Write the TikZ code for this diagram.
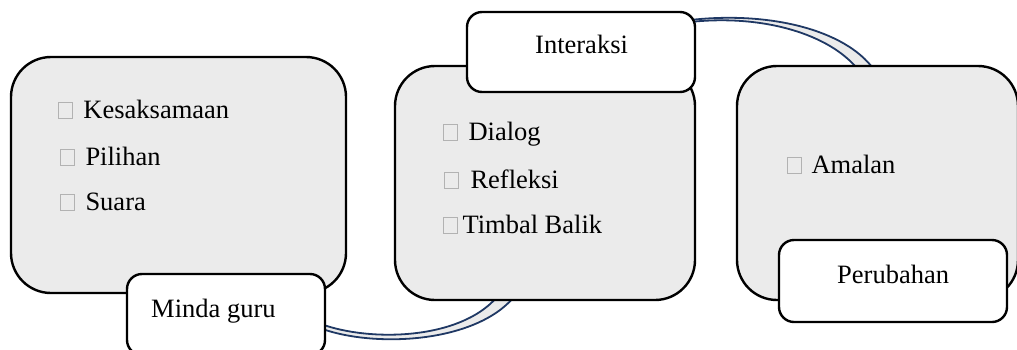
\documentclass[tikz,border=0pt]{standalone}
\usepackage{fontspec}
\setmainfont{Liberation Serif}
\usetikzlibrary{calc}
\definecolor{boxgray}{RGB}{235,235,235}
\definecolor{navy}{RGB}{31,56,100}
\newcommand\bxsq{{\color{gray!60}\fboxsep=0pt\fboxrule=0.9pt\fbox{\rule{0pt}{15pt}\hspace{12.5pt}}}}
\tikzset{
  bigbox/.style={draw=black, line width=2.4pt, fill=boxgray, rounded corners=40pt, inner sep=0pt, outer sep=0pt},
  tagbox/.style={draw=black, line width=2.4pt, fill=white, rounded corners=15pt, inner sep=0pt, outer sep=0pt},
  txt/.style={anchor=base west, inner sep=0pt, font=\fontsize{26.5}{30}\selectfont},
  bandline/.style={draw=navy, line width=1.8pt},
  bandfill/.style={fill=boxgray}
}
\begin{document}
\begin{tikzpicture}[x=1pt,y=-1pt]
\useasboundingbox (0,0) rectangle (1017,349);
% box geometry (nodes first, drawn later on top of connectors)
\path
  node[bigbox, minimum width=335, minimum height=236, draw=none, fill=none] (b1) at (178.5,175) {}
  node[tagbox, minimum width=198, minimum height=81, draw=none, fill=none] (mg) at (226,314.5) {}
  node[bigbox, minimum width=300, minimum height=234, draw=none, fill=none] (b2) at (545,183) {}
  node[tagbox, minimum width=228, minimum height=80, draw=none, fill=none] (ia) at (581,52) {}
  node[bigbox, minimum width=281, minimum height=234, draw=none, fill=none] (b3) at (877.5,183) {}
  node[tagbox, minimum width=228, minimum height=82, draw=none, fill=none] (pb) at (893,281) {};
% bottom band: Minda guru -> middle box
\coordinate (u1) at ($(mg.east)+(-4,9.5)$);
\coordinate (l1) at ($(mg.east)+(-4,14)$);
\coordinate (u2) at ($(b2.south)+(-48,-3)$);
\coordinate (l2) at ($(b2.south)+(-31,-3)$);
\fill[bandfill] (u1) .. controls (370,342) and (460,340) .. (u2) -- (l2) .. controls (475,343) and (375,348) .. (l1) -- cycle;
\draw[bandline] (u1) .. controls (370,342) and (460,340) .. (u2);
\draw[bandline] (l1) .. controls (375,348) and (475,343) .. (l2);
% top band: Interaksi -> right box
\coordinate (a1) at ($(ia.north east)+(-5,8)$);
\coordinate (c1) at ($(ia.north east)+(-5,10)$);
\coordinate (a2) at ($(b3.north)+(-4,3)$);
\coordinate (c2) at ($(b3.north)+(-20,3)$);
\fill[bandfill] (a1) .. controls (770,11) and (845,30) .. (a2) -- (c2) .. controls (830,35) and (765,14) .. (c1) -- cycle;
\draw[bandline] (a1) .. controls (770,11) and (845,30) .. (a2);
\draw[bandline] (c1) .. controls (765,14) and (830,35) .. (c2);
% boxes
\node[bigbox, minimum width=335, minimum height=236] at (b1) {};
\node[tagbox, minimum width=198, minimum height=81] at (mg) {};
\node[bigbox, minimum width=300, minimum height=234] at (b2) {};
\node[tagbox, minimum width=228, minimum height=80] at (ia) {};
\node[bigbox, minimum width=281, minimum height=234] at (b3) {};
\node[tagbox, minimum width=228, minimum height=82] at (pb) {};
% texts
\node[txt] (k1) at (58,118) {\bxsq\hspace{11pt}Kesaksamaan};
\node[txt] (k2) at (60,165) {\bxsq\hspace{11pt}Pilihan};
\node[txt] (k3) at (60,210) {\bxsq\hspace{11pt}Suara};
\node[txt] (mgt) at (151,317) {Minda guru};
\node[txt] (iat) at (535,53) {Interaksi};
\node[txt] (d1) at (443,140) {\bxsq\hspace{11pt}Dialog};
\node[txt] (d2) at (444,188) {\bxsq\hspace{12pt}Refleksi};
\node[txt] (d3) at (443,233) {\bxsq\hspace{5pt}Timbal Balik};
\node[txt] (am) at (787,173) {\bxsq\hspace{10pt}Amalan};
\node[txt] (pbt) at (837,283) {Perubahan};
\end{tikzpicture}
\end{document}
